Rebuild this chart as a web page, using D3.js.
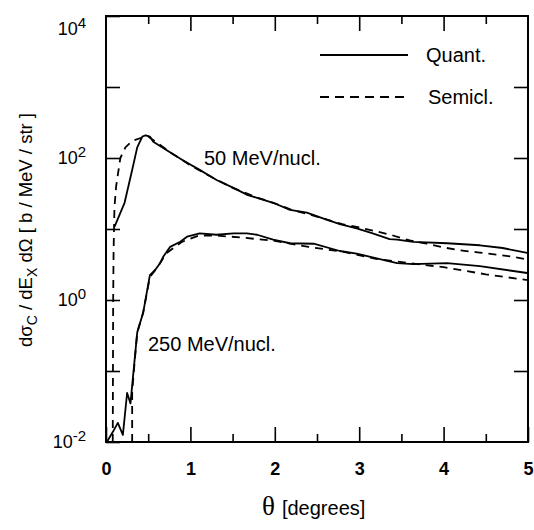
<!DOCTYPE html>
<html>
<head>
<meta charset="utf-8">
<script src="https://cdn.jsdelivr.net/npm/d3@7"></script>
<style>
  body { margin: 0; background: #fff; }
  text { font-family: "Liberation Sans", Arial, Helvetica, sans-serif; fill: #000; }
</style>
</head>
<body>
<div id="chart"></div>
<script>
// angle (degrees) and cross section (b/MeV/str)
var quant50 = [
  [0.10, 10.7], [0.22, 23.4], [0.31, 67.6], [0.37, 141], [0.43, 200], [0.47, 209],
  [0.52, 200], [0.56, 170], [0.72, 129], [0.91, 93], [1.11, 68], [1.31, 49],
  [1.51, 38], [1.68, 30], [1.79, 27.5], [1.98, 23.4], [2.18, 18.6], [2.38, 17],
  [2.57, 14.1], [2.77, 11.7], [2.97, 10.2], [3.16, 8.7], [3.36, 7.2], [3.45, 7.1],
  [3.64, 6.6], [4.04, 6.3], [4.43, 5.9], [4.70, 5.4], [4.99, 4.6]
];
var semi50 = [
  [0.08, 0.01], [0.085, 1], [0.09, 5], [0.10, 20], [0.12, 40], [0.17, 100],
  [0.23, 141], [0.31, 174], [0.43, 195], [0.50, 200], [0.60, 166], [0.80, 112],
  [1.00, 79], [1.20, 58], [1.50, 38], [1.80, 27.5], [2.00, 23], [2.20, 18.6],
  [2.40, 16.2], [2.60, 13.8], [2.80, 11.7], [3.00, 10.5], [3.20, 9.3], [3.40, 8.1],
  [3.60, 6.9], [3.80, 6.2], [4.00, 5.5], [4.20, 5.0], [4.40, 4.7], [4.60, 4.4],
  [4.80, 4.1], [5.00, 3.7]
];
var quant250 = [
  [0.01, 0.010], [0.08, 0.0138], [0.14, 0.0186], [0.20, 0.0126], [0.25, 0.049],
  [0.29, 0.035], [0.37, 0.35], [0.44, 0.66], [0.52, 2.24], [0.58, 2.63], [0.64, 3.3],
  [0.68, 4.1], [0.76, 5.6], [0.88, 6.6], [0.96, 7.8], [1.11, 8.7], [1.31, 8.3],
  [1.51, 8.7], [1.67, 8.7], [1.79, 8.3], [1.98, 7.1], [2.18, 6.3], [2.46, 6.2],
  [2.77, 4.9], [2.97, 4.5], [3.32, 3.6], [3.45, 3.3], [3.64, 3.2], [4.04, 3.3],
  [4.43, 3.0], [4.99, 2.4]
];
var semi250 = [
  [0.31, 0.01], [0.31, 0.05], [0.33, 0.1], [0.37, 0.35], [0.44, 0.66], [0.52, 2.1],
  [0.60, 2.8], [0.72, 4.6], [0.90, 6.6], [1.10, 8.1], [1.30, 8.1], [1.60, 7.6],
  [2.00, 6.8], [2.40, 5.6], [2.80, 4.8], [3.20, 3.8], [3.60, 3.3], [4.00, 2.9],
  [4.50, 2.3], [5.00, 1.9]
];

var xMajor = [0, 1, 2, 3, 4, 5];
var xMinor = [0.5, 1.5, 2.5, 3.5, 4.5];
var yMajor = [0.01, 0.1, 1, 10, 100, 1000, 10000];
var yLabels = [0.01, 1, 100, 10000];
var legendNames = ["Quant.", "Semicl."];
var energyLabels = ["50 MeV/nucl.", "250 MeV/nucl."];

function init(){
  var W = 534, H = 530;
  var left = 106, right = 528, top = 16, bottom = 442;

  var svg = d3.select("#chart").append("svg")
    .attr("width", W).attr("height", H);

  var x = d3.scaleLinear().domain([0, 5]).range([left, right]);
  var y = d3.scaleLog().domain([0.01, 10000]).range([bottom, top]);

  svg.append("clipPath").attr("id", "plot")
    .append("rect").attr("x", left).attr("y", top)
    .attr("width", right - left).attr("height", bottom - top);

  // axes, ticks pointing inwards
  var gl = svg.append("g").attr("transform", "translate(" + left + ",0)")
    .call(d3.axisLeft(y).tickValues(yMajor).tickSize(-14).tickPadding(20)
      .tickFormat(function(d){ return yLabels.indexOf(d) >= 0 ? "10" : ""; }));
  gl.selectAll(".tick text").each(function(d){
    if (yLabels.indexOf(d) < 0) return;
    var t = d3.select(this);
    t.attr("font-size", 18).attr("font-family", null);
    t.append("tspan").attr("dy", "-0.5em").attr("font-size", 15)
      .text(Math.round(Math.log10(d)));
    if (d === 10000) t.attr("dy", "1.05em");
  });

  svg.append("g").attr("transform", "translate(" + right + ",0)")
    .call(d3.axisRight(y).tickValues(yMajor.slice(1, -1)).tickSize(-14).tickFormat(""));

  var gb = svg.append("g").attr("transform", "translate(0," + bottom + ")")
    .call(d3.axisBottom(x).tickValues(xMajor).tickSize(-15).tickPadding(20)
      .tickFormat(d3.format("d")));
  gb.selectAll(".tick text").attr("font-size", 18).attr("font-weight", "bold")
    .attr("font-family", null);
  svg.append("g").attr("transform", "translate(0," + bottom + ")")
    .call(d3.axisBottom(x).tickValues(xMinor).tickSize(-8).tickFormat(""));

  svg.append("g").attr("transform", "translate(0," + top + ")")
    .call(d3.axisTop(x).tickValues(xMajor.slice(1, -1)).tickSize(-15).tickFormat(""));
  svg.append("g").attr("transform", "translate(0," + top + ")")
    .call(d3.axisTop(x).tickValues(xMinor).tickSize(-8).tickFormat(""));

  svg.selectAll(".domain").remove();
  svg.selectAll(".tick line").attr("stroke", "#000").attr("stroke-width", 1.6);

  // frame
  svg.append("rect").attr("x", left).attr("y", top)
    .attr("width", right - left).attr("height", bottom - top)
    .attr("fill", "none").attr("stroke", "#000").attr("stroke-width", 2);

  // curves
  var line = d3.line()
    .x(function(d){ return x(d[0]); })
    .y(function(d){ return y(d[1]); });

  var curves = [
    { data: quant50, dash: null },
    { data: semi50, dash: "8,6" },
    { data: quant250, dash: null },
    { data: semi250, dash: "8,6" }
  ];
  svg.append("g").attr("clip-path", "url(#plot)")
    .selectAll("path").data(curves).enter().append("path")
      .attr("d", function(d){ return line(d.data); })
      .attr("fill", "none").attr("stroke", "#000").attr("stroke-width", 1.8)
      .attr("stroke-linejoin", "round")
      .attr("stroke-dasharray", function(d){ return d.dash; });

  // legend
  var lg = svg.append("g");
  legendNames.forEach(function(name, i){
    var ly = 55 + i * 42;
    lg.append("line").attr("x1", 320).attr("x2", 408).attr("y1", ly).attr("y2", ly)
      .attr("stroke", "#000").attr("stroke-width", 1.8)
      .attr("stroke-dasharray", i === 1 ? "9,6" : null);
    lg.append("text").attr("x", 426 + i * 2).attr("y", ly + 7).attr("font-size", 20)
      .text(name);
  });

  // energy labels
  svg.append("text").attr("x", 204).attr("y", 165).attr("font-size", 20).text(energyLabels[0]);
  svg.append("text").attr("x", 148).attr("y", 351).attr("font-size", 20).text(energyLabels[1]);

  // x title
  var xt = svg.append("text").attr("x", 262).attr("y", 515);
  xt.append("tspan").attr("font-family", "'Liberation Serif', 'Times New Roman', serif")
    .attr("font-size", 27).text("\u03B8");
  xt.append("tspan").attr("font-size", 20).attr("dx", 7).text("[degrees]");

  // y title, rotated
  var yt = svg.append("text").attr("font-size", 18.5).attr("text-anchor", "middle")
    .attr("transform", "translate(32,230) rotate(-90)");
  yt.append("tspan").text("d\u03C3");
  yt.append("tspan").attr("font-size", 14).attr("dy", 5).text("C");
  yt.append("tspan").attr("dy", -5).text(" / dE");
  yt.append("tspan").attr("font-size", 14).attr("dy", 5).text("X");
  yt.append("tspan").attr("dy", -5).text(" d\u03A9 [ b / MeV / str ]");
}
window.onload = init;
</script>
</body>
</html>
